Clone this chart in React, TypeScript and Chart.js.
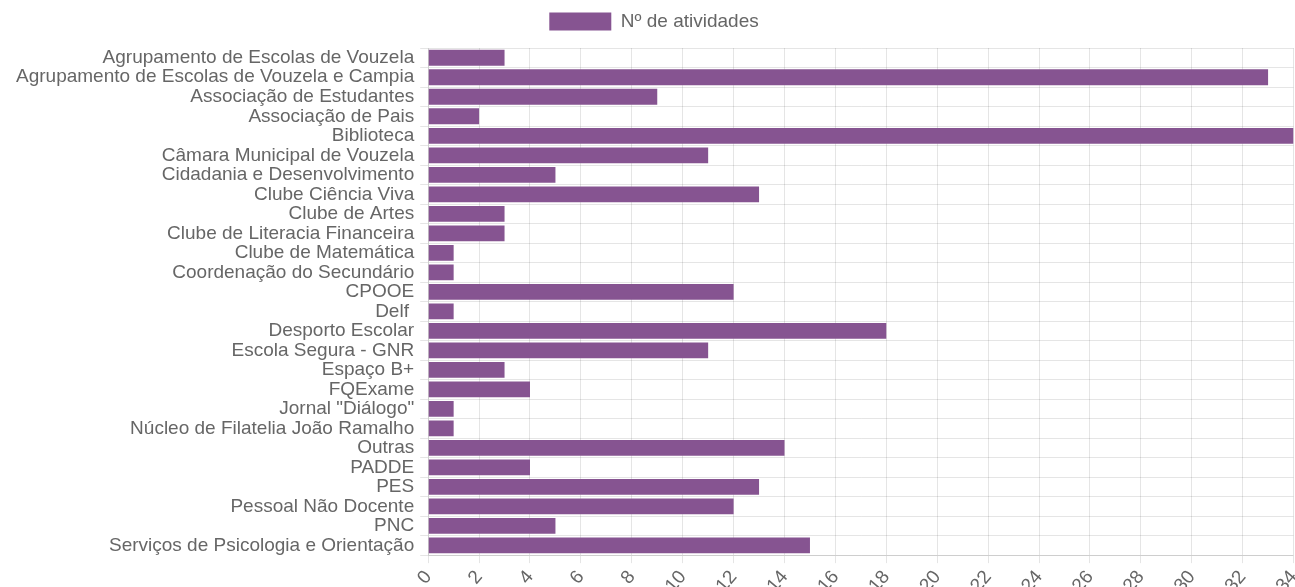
import React, { useEffect, useRef } from "react";
import { Chart, registerables } from "chart.js";

Chart.register(...registerables);

const categories: string[] = [
  "Agrupamento de Escolas de Vouzela",
  "Agrupamento de Escolas de Vouzela e Campia",
  "Associação de Estudantes",
  "Associação de Pais",
  "Biblioteca",
  "Câmara Municipal de Vouzela",
  "Cidadania e Desenvolvimento",
  "Clube Ciência Viva",
  "Clube de Artes",
  "Clube de Literacia Financeira",
  "Clube de Matemática",
  "Coordenação do Secundário",
  "CPOOE",
  "Delf ",
  "Desporto Escolar",
  "Escola Segura - GNR",
  "Espaço B+",
  "FQExame",
  "Jornal \"Diálogo\"",
  "Núcleo de Filatelia João Ramalho",
  "Outras",
  "PADDE",
  "PES",
  "Pessoal Não Docente",
  "PNC",
  "Serviços de Psicologia e Orientação",
];

const seriesLabel = "Nº de atividades";
const activities: number[] = [3, 33, 9, 2, 34, 11, 5, 13, 3, 3, 1, 1, 12, 1, 18, 11, 3, 4, 1, 1, 14, 4, 13, 12, 5, 15];

const xMin = 0;
const xMax = 34;
const xStep = 2;

const CANVAS_W = 1314;
const CANVAS_H = 600;

export default function App() {
  const ref = useRef<HTMLCanvasElement>(null);
  useEffect(() => {
    document.body.style.margin = "0";
    const ctx = ref.current!;
    const font = { family: "'Liberation Sans', Arial, sans-serif", size: 19 };
    const legendSpacer = {
      id: "legendSpacer",
      beforeInit(chart: any) {
        const legend = chart.legend;
        if (!legend) return;
        const orig = legend.fit;
        legend.fit = function () {
          orig.call(this);
          this.height += 7;
        };
      },
      afterLayout(chart: any) {
        const legend = chart.legend;
        if (!legend) return;
        legend.left -= 16;
        legend.right -= 0;
      },
    };
    const chart = new Chart(ctx, {
      type: "bar",
      data: {
        labels: categories,
        datasets: [
          {
            label: seriesLabel,
            data: activities,
            backgroundColor: "#865491",
            borderColor: "#865491",
            borderWidth: 0,
            barPercentage: 0.9,
            categoryPercentage: 0.9,
          },
        ],
      },
      options: {
        indexAxis: "y",
        animation: false,
        responsive: false,
        maintainAspectRatio: false,
        layout: { padding: { left: 10, right: 0, top: 2, bottom: 0 } },
        plugins: {
          legend: {
            display: true,
            position: "top",
            labels: {
              boxWidth: 62,
              boxHeight: 18,
              color: "#666",
              font,
              padding: 10,
            },
          },
          tooltip: { enabled: false },
        },
        scales: {
          x: {
            min: xMin,
            max: xMax,
            ticks: {
              stepSize: xStep,
              color: "#666",
              font,
              minRotation: 50,
              maxRotation: 50,
            },
            grid: { color: "rgba(0,0,0,0.1)" },
          },
          y: {
            ticks: { color: "#666", font, autoSkip: false, padding: 6 },
            grid: { color: "rgba(0,0,0,0.1)" },
          },
        },
      },
      plugins: [legendSpacer],
    });
    return () => chart.destroy();
  }, []);
  return (
    <div style={{ position: "absolute", left: 0, top: 0, width: 1295, height: 587, overflow: "hidden" }}>
      <canvas ref={ref} width={CANVAS_W} height={CANVAS_H} style={{ width: CANVAS_W, height: CANVAS_H }} />
    </div>
  );
}
